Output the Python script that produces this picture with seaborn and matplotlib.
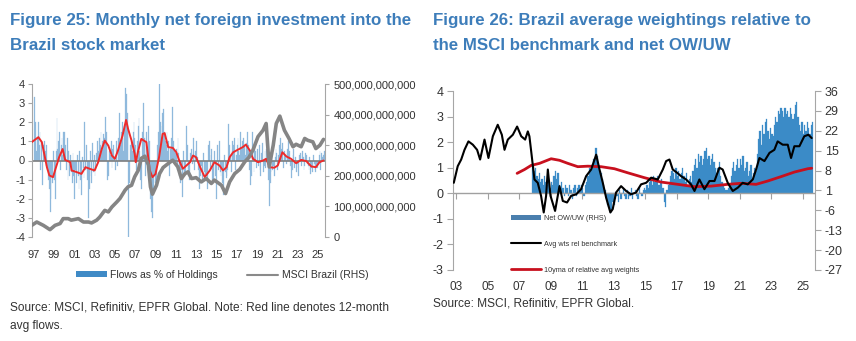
import numpy as np
import pandas as pd
import matplotlib
matplotlib.use("Agg")
import matplotlib.pyplot as plt
import seaborn as sns
from matplotlib.patches import Patch
from matplotlib.lines import Line2D
import matplotlib.ticker as mticker

# ---------------- DATA: Figure 25 ----------------
flow_start = "1997-01"
flows_pct = [
    3.3, 1.5, 2.0, 0.5, 1.2, 2.0, 0.8, 1.5, -0.5, 1.0, -1.3, 0.8,      # 1997
    1.0, 0.5, -0.3, 0.8, -0.5, -1.0, -1.5, -2.7, -2.0, -0.8, -1.2, 0.5,  # 1998
    -1.0, -2.0, 0.5, 2.2, 0.6, 1.0, 1.5, -0.5, 0.8, 1.2, 0.3, 1.5,    # 1999
    1.5, 0.8, -0.5, 1.2, -1.0, 0.5, -0.8, 0.3, -0.6, -1.2, 0.4, -0.8,  # 2000
    -2.0, -0.5, -1.2, 0.3, -0.8, -1.5, 0.5, -1.0, -1.8, 0.2, -0.4, -0.9,  # 2001
    2.0, -0.5, 0.8, -1.0, -3.0, -1.5, -0.8, 0.5, -1.2, 0.9, -0.6, 0.3,  # 2002
    -0.8, -0.5, 0.4, 1.0, 0.5, 1.2, 0.8, 1.5, 0.6, 1.0, 1.4, 1.2,     # 2003
    2.3, 1.0, 1.5, -1.0, -0.8, 0.5, 0.3, 1.0, -0.4, 0.6, 0.8, 0.2,    # 2004
    -0.5, 1.0, 0.2, -0.3, 1.2, 2.5, 0.8, 1.5, 2.0, 1.2, 0.5, 1.8,     # 2005
    3.8, 3.5, 2.5, 1.8, -4.0, -1.2, 0.8, 1.0, 0.5, 1.5, 2.0, 1.2,     # 2006
    0.8, -0.5, 1.0, 1.8, 2.2, 0.5, -1.0, -1.5, 1.5, 3.0, 1.2, 0.8,    # 2007
    -0.8, 1.5, 0.5, 1.8, 1.0, -0.5, -2.0, -2.7, -3.0, -1.5, -0.8, -1.2,  # 2008
    -0.5, -1.0, 0.8, 1.5, 4.0, 2.0, 1.8, 1.2, 2.5, 2.7, 1.5, 1.0,     # 2009
    0.8, 1.5, 0.5, 1.0, -0.8, 0.6, 1.2, 0.3, 2.8, 1.0, 0.5, 0.4,      # 2010
    0.6, -0.5, 1.2, 0.4, -0.8, -1.2, -0.5, -1.9, -1.0, 0.5, -0.8, -0.6,  # 2011
    1.8, 0.8, -0.5, -0.8, -1.0, 0.4, 0.6, -0.2, 1.2, 0.3, -0.5, 0.5,  # 2012
    1.0, 0.2, -0.5, -1.0, -1.5, -0.8, -0.3, -1.2, 0.4, -0.6, -0.8, -1.0,  # 2013
    -0.8, -1.5, 0.8, 1.0, 0.3, -0.5, 0.6, -1.0, -1.2, 0.5, -0.8, -0.6,  # 2014
    -2.0, 0.8, -0.5, 1.0, -0.6, -0.8, -0.4, -1.2, -1.8, 0.3, -0.6, -0.9,  # 2015
    -0.8, -0.5, 1.9, 0.8, 0.3, -0.6, 0.5, 1.0, 0.8, 1.2, -0.5, 0.3,   # 2016
    0.8, 1.2, 0.5, 0.3, 1.5, 0.6, 1.0, 0.4, 1.2, 0.8, 0.3, 0.9,       # 2017
    1.5, 0.8, 0.6, -0.5, -1.3, -0.8, 1.5, 0.2, -0.6, 0.8, 0.5, -0.4,  # 2018
    0.6, -0.3, 0.8, -0.5, -0.8, 0.4, 0.9, -0.6, -0.3, 0.5, -0.4, 0.6,  # 2019
    0.5, -1.0, -2.4, -1.2, -0.6, 0.3, -0.5, -0.3, -0.8, 0.2, 0.6, 0.4,  # 2020
    -0.5, 0.3, 0.8, 1.2, 0.6, 0.5, 0.9, -0.4, 0.5, 0.3, -0.2, 0.4,    # 2021
    0.6, 1.0, 0.5, -0.3, -0.9, -0.5, 0.3, 0.6, -0.4, 0.2, -0.6, -0.2,  # 2022
    -0.4, -0.8, 0.3, 0.4, -0.3, 0.5, 0.2, -0.5, -0.3, 0.4, 0.3, -0.2,  # 2023
    -0.3, -0.5, 0.2, -0.7, -0.4, -0.6, 0.3, -0.2, -0.5, -0.6, -0.3, -0.4,  # 2024
    -0.2, 0.3, 0.5, -0.5, 0.4, 0.2, 0.3, 0.5, 0.2,                    # 2025
]

avg12_years = [1996.8, 1997.46, 1997.8, 1998.3, 1998.54, 1998.9, 1999.1, 1999.5, 1999.85, 2000.1,
               2000.6, 2000.73, 2001.2, 2001.7, 2002.1, 2002.5, 2003.0, 2003.35, 2003.7, 2004.0,
               2004.35, 2004.7, 2005.0, 2005.3, 2005.75, 2006.1, 2006.3, 2006.64, 2006.95, 2007.05,
               2007.3, 2007.6, 2007.85, 2008.1, 2008.44, 2008.7, 2009.0, 2009.35, 2009.7, 2009.9,
               2010.25, 2010.7, 2011.05, 2011.4, 2011.7, 2012.05, 2012.4, 2012.7, 2013.0, 2013.4,
               2013.85, 2014.35, 2014.8, 2015.3, 2015.65, 2016.0, 2016.3, 2016.65, 2017.1, 2017.6,
               2017.9, 2018.3, 2018.6, 2019.1, 2019.6, 2019.9, 2020.25, 2020.7, 2021.05, 2021.5,
               2021.9, 2022.35, 2022.85, 2023.35, 2023.85, 2024.35, 2024.8, 2025.16, 2025.55]
avg12_flows = [0.96, 1.22, 0.96, -0.35, -0.78, -0.87, -0.52, 0.17, 0.6, 0.03,
               -0.09, -0.52, -0.6, -0.7, -0.35, -0.43, -0.52, -0.09, 0.6, 1.04,
               0.78, 0.26, 0.09, 0.52, 1.3, 2.12, 1.65, 1.04, 0.35, -0.09,
               0.52, 1.13, 1.04, 0.96, -0.52, -0.87, -0.7, 0.17, 1.39, 1.43,
               0.7, 0.66, 0.43, -0.09, -0.43, -0.26, -0.09, 0.26, 0.17, -0.35,
               -0.87, -0.52, -0.09, -0.26, -0.52, -0.35, 0.17, 0.43, 0.56, 0.7,
               0.83, 0.52, 0.09, -0.09, 0.0, 0.09, -0.35, -0.38, -0.26, 0.43,
               0.21, 0.09, -0.14, 0.03, -0.03, -0.31, -0.35, -0.09, 0.0]

msci_years = [1996.8, 1997.3, 1997.95, 1998.6, 1999.1, 1999.6, 1999.9, 2000.4, 2000.7, 2001.4,
              2001.9, 2002.4, 2002.7, 2003.2, 2003.5, 2004.0, 2004.35, 2004.7, 2005.2, 2005.5,
              2006.0, 2006.3, 2006.64, 2006.95, 2007.3, 2007.6, 2007.95, 2008.3, 2008.5, 2008.7,
              2009.1, 2009.4, 2009.75, 2010.25, 2010.7, 2011.2, 2011.55, 2011.9, 2012.2, 2012.55,
              2013.0, 2013.5, 2014.0, 2014.5, 2014.8, 2015.5, 2015.9, 2016.3, 2016.8, 2017.3,
              2017.8, 2018.2, 2018.6, 2019.1, 2019.6, 2019.9, 2020.2, 2020.6, 2020.9, 2021.25,
              2021.7, 2022.15, 2022.55, 2022.85, 2023.35, 2023.7, 2024.0, 2024.5, 2024.8, 2025.2,
              2025.55]
msci_bn = [38, 49, 38, 24, 38, 44, 60, 60, 55, 60,
           49, 49, 46, 55, 65, 87, 82, 98, 115, 126,
           153, 164, 169, 197, 218, 257, 264, 235, 164, 140,
           169, 207, 227, 240, 251, 229, 191, 207, 213, 191,
           194, 180, 191, 175, 186, 169, 142, 180, 207, 221,
           246, 260, 284, 328, 349, 371, 229, 300, 371, 395,
           349, 322, 295, 303, 295, 322, 316, 311, 289, 300,
           319]

left_xticks = list(range(1997, 2026, 2))
left_xlabels = ["97", "99", "01", "03", "05", "07", "09", "11", "13", "15", "17", "19", "21", "23", "25"]

# ---------------- DATA: Figure 26 ----------------
owuw_start = "2007-11"
net_owuw = [
    10, 8,                                          # 2007
    9, 6, 5, 7, 4, 5, 3, 6, 4, 3, 5, 2,             # 2008
    4, 3, 6, 8, 5, 7, 3, 2, 4, 2, -1, 3,            # 2009
    2, -1, 3, 1, -2, 2, 3, -1, 2, 3, 1, 3,          # 2010
    2, -1, 3, 4, 6, 9, 8, 10, 12, 11, 16, 13,       # 2011
    10, 8, 7, 5, 3, 1, -2, -4, -5, -7, -6, -3,      # 2012
    -4, -2, -1, -3, 1, -2, 0, 2, -1, -2, 1, -2,     # 2013
    -1, 2, -2, 0, 1, -1, -2, 2, 0, -1, 1, 2,        # 2014
    1, 3, 2, 4, 5, 3, 6, 4, 5, 6, 3, 4,             # 2015
    5, 2, -3, -5, 1, 3, 4, 6, 8, 7, 5, 9,           # 2016
    6, 8, 5, 7, 9, 6, 4, 7, 3, 5, 6, 4,             # 2017
    8, 10, 12, 9, 14, 11, 13, 10, 12, 15, 16, 12,   # 2018
    13, 10, 12, 14, 11, 9, 7, 9, 11, 6, 4, 3,       # 2019
    2, 1, 1, 2, 3, 6, 9, 11, 8, 10, 12, 9,          # 2020
    12, 10, 13, 8, 9, 11, 6, 8, 10, 5, 7, 9,        # 2021
    8, 14, 19, 22, 17, 24, 21, 25, 26, 22, 19, 23,  # 2022
    21, 20, 24, 27, 25, 29, 28, 30, 29, 27, 30, 28, # 2023
    29, 27, 30, 28, 26, 28, 31, 32, 27, 24, 22, 25, # 2024
    21, 24, 22, 25, 23, 21, 24, 25,                 # 2025
]

avgwt_years = [2002.85, 2003.1, 2003.32, 2003.53, 2003.78, 2004.06, 2004.33, 2004.52, 2004.8, 2005.05,
               2005.33, 2005.64, 2005.9, 2006.07, 2006.28, 2006.6, 2006.87, 2007.13, 2007.38, 2007.55,
               2007.65, 2007.8, 2007.97, 2008.18, 2008.39, 2008.56, 2008.71, 2008.82, 2008.99, 2009.28,
               2009.56, 2009.77, 2010.04, 2010.3, 2010.62, 2010.93, 2011.25, 2011.57, 2011.89, 2012.1,
               2012.31, 2012.52, 2012.79, 2012.94, 2013.15, 2013.47, 2013.79, 2014.1, 2014.42, 2014.74,
               2015.06, 2015.38, 2015.8, 2016.12, 2016.33, 2016.54, 2016.75, 2017.03, 2017.28, 2017.6,
               2017.91, 2018.13, 2018.44, 2018.76, 2019.08, 2019.4, 2019.71, 2019.92, 2020.24, 2020.56,
               2020.88, 2021.19, 2021.51, 2021.83, 2022.04, 2022.25, 2022.57, 2022.89, 2023.2, 2023.41,
               2023.73, 2024.05, 2024.26, 2024.47, 2024.79, 2025.1, 2025.36, 2025.57]
avgwt_rel = [0.41, 1.06, 1.32, 1.7, 2.03, 1.9, 1.7, 1.32, 2.1, 1.38,
             2.23, 2.68, 2.29, 1.7, 2.1, 2.29, 2.61, 2.23, 2.1, 2.42,
             2.23, 1.45, 0.54, 0.41, -0.1, -0.75, -0.1, 0.93, -0.1, -0.69,
             0.28, -0.3, -0.36, -0.1, -0.04, 0.16, 0.67, 0.93, 1.51, 0.93,
             0.41, -0.17, -0.75, -0.62, 0.03, 0.28, 0.09, -0.04, 0.03, 0.35,
             0.41, 0.61, 0.54, 0.93, 1.26, 1.32, 0.93, 0.8, 0.67, 0.54,
             0.35, 0.09, 0.54, 0.16, 0.48, 0.48, 1.0, 0.93, 0.41, 0.09,
             0.22, 0.41, 0.35, 0.54, 0.93, 1.38, 1.26, 1.58, 1.7, 2.03,
             1.9, 1.9, 1.38, 1.84, 1.84, 2.23, 2.29, 2.16]

ma10_years = [2006.87, 2007.34, 2007.76, 2008.29, 2009.03, 2009.56, 2010.09, 2010.72, 2011.36, 2012.2,
              2013.05, 2013.9, 2014.95, 2016.0, 2017.07, 2018.13, 2019.18, 2020.24, 2021.09, 2022.04,
              2022.78, 2023.62, 2024.47, 2025.32, 2025.57]
ma10_rel = [0.78, 0.93, 1.09, 1.17, 1.35, 1.29, 1.17, 1.04, 1.06, 1.04,
            0.96, 0.8, 0.61, 0.44, 0.35, 0.26, 0.28, 0.35, 0.39, 0.35,
            0.48, 0.65, 0.83, 0.96, 0.98]

right_xticks = list(range(2003, 2026, 2))
right_xlabels = ["03", "05", "07", "09", "11", "13", "15", "17", "19", "21", "23", "25"]

# ---------------- helpers ----------------
def month_years(start, n):
    d = pd.date_range(start, periods=n, freq="MS")
    return d.year + (d.month - 1) / 12.0

sns.set_theme(style="white")
plt.rcParams["font.family"] = ["Liberation Sans", "DejaVu Sans"]
plt.rcParams["axes.unicode_minus"] = False

TITLE_BLUE = "#3d7dba"
TXT = "#333333"
SPINE = "#a6a6a6"

W, H = 856, 341
fig = plt.figure(figsize=(W / 100, H / 100), dpi=100)

def fax(x0, y0, x1, y1):
    return fig.add_axes([x0 / W, 1 - y1 / H, (x1 - x0) / W, (y1 - y0) / H])

# ================= Figure 25 =================
ax1 = fax(32, 84, 325, 237)
fx = month_years(flow_start, len(flows_pct))
ax1.bar(fx + 1 / 24, flows_pct, width=1 / 12, color="#8fb9dc", edgecolor="#8fb9dc",
        linewidth=0.2, zorder=1)
ax1.axhline(0, color="#7f7f7f", lw=1.2, zorder=2)
sns.lineplot(x=avg12_years, y=avg12_flows, ax=ax1, color="#ee2a2a", lw=1.4, zorder=3)
ax1.set_ylim(-4, 4)
ax1.set_xlim(1996.83, 2025.7)
ax1.set_yticks(range(-4, 5))
ax1.set_xticks(left_xticks)
ax1.set_xticklabels(left_xlabels)
ax1.tick_params(axis="x", length=0, pad=9, labelsize=8, labelcolor=TXT)
ax1.tick_params(axis="y", left=True, length=3, width=0.8, color=SPINE, pad=2, labelsize=8, labelcolor=TXT)
for s in ["top", "bottom", "right"]:
    ax1.spines[s].set_visible(False)
ax1.spines["left"].set_color(SPINE)
ax1.spines["left"].set_linewidth(0.8)
ax1.set_xlabel(""); ax1.set_ylabel("")

ax1r = ax1.twinx()
sns.lineplot(x=msci_years, y=np.array(msci_bn) * 1e9, ax=ax1r, color="#858585", lw=2.6, zorder=4)
ax1r.set_ylim(0, 5e11)
ax1r.set_yticks(np.arange(0, 5.01e11, 1e11))
ax1r.yaxis.set_major_formatter(mticker.FuncFormatter(lambda v, p: f"{v:,.0f}"))
ax1r.tick_params(axis="y", right=True, length=3, width=0.8, color=SPINE, pad=3, labelsize=8, labelcolor=TXT)
for s in ["top", "bottom", "left"]:
    ax1r.spines[s].set_visible(False)
ax1r.spines["right"].set_color(SPINE)
ax1r.spines["right"].set_linewidth(0.8)
ax1r.set_ylabel("")

h_flows = Patch(facecolor="#3f8ac6", edgecolor="none")
h_msci = Line2D([], [], color="#8a8a8a", lw=1.5)
fig.legend([h_flows, h_msci], ["Flows as % of Holdings", "MSCI Brazil (RHS)"],
           loc="center", bbox_to_anchor=(222 / W, 1 - 275 / H), ncol=2, frameon=False,
           fontsize=7.5, handlelength=3.0, handleheight=0.5, handletextpad=0.3,
           columnspacing=2.8, labelcolor=TXT)

TFS = 12.2
fig.text(10 / W, 1 - 20 / H, "Figure 25: Monthly net foreign investment into the",
         color=TITLE_BLUE, fontsize=TFS, fontweight="bold", va="center", ha="left")
fig.text(10 / W, 1 - 45 / H, "Brazil stock market",
         color=TITLE_BLUE, fontsize=TFS, fontweight="bold", va="center", ha="left")
fig.text(10 / W, 1 - 308 / H, "Source: MSCI, Refinitiv, EPFR Global. Note: Red line denotes 12-month",
         color=TXT, fontsize=8.6, va="center", ha="left")
fig.text(10 / W, 1 - 326 / H, "avg flows.", color=TXT, fontsize=8.6, va="center", ha="left")

# ================= Figure 26 =================
ax2 = fax(453, 91, 815, 270)
ax2r = ax2.twinx()
ox = month_years(owuw_start, len(net_owuw))
ax2r.bar(ox + 1 / 24, net_owuw, width=1 / 12, color="#3b8bc7", edgecolor="#3b8bc7",
         linewidth=0.2, zorder=1)
ax2r.set_ylim(-27, 36)
ax2r.set_yticks(range(-27, 37, 7))
ax2r.tick_params(axis="y", right=True, length=4, width=0.8, color=SPINE, pad=3, labelsize=9, labelcolor=TXT)
for s in ["top", "bottom", "left"]:
    ax2r.spines[s].set_visible(False)
ax2r.spines["right"].set_color(SPINE)
ax2r.spines["right"].set_linewidth(0.8)

ax2.set_zorder(ax2r.get_zorder() + 1)
ax2.patch.set_visible(False)
ax2.axhline(0, color="#a0a0a0", lw=1.0, zorder=2)
sns.lineplot(x=ma10_years, y=ma10_rel, ax=ax2, color="#c8101e", lw=2.0, zorder=3)
sns.lineplot(x=avgwt_years, y=avgwt_rel, ax=ax2, color="#000000", lw=1.5, zorder=4)
ax2.set_ylim(-3, 4)
ax2.set_xlim(2002.8, 2025.78)
ax2.set_yticks(range(-3, 5))
ax2.set_xticks(right_xticks)
ax2.set_xticklabels(right_xlabels)
ax2.tick_params(axis="x", length=0, pad=8, labelsize=8.5, labelcolor=TXT)
ax2.tick_params(axis="y", left=True, length=4, width=0.8, color=SPINE, pad=3, labelsize=9, labelcolor=TXT)
for s in ["top", "bottom", "right"]:
    ax2.spines[s].set_visible(False)
ax2.spines["left"].set_color(SPINE)
ax2.spines["left"].set_linewidth(0.8)
ax2.set_xlabel(""); ax2.set_ylabel("")

sec = ax2.secondary_xaxis(3 / 7)
sec.set_xticks(right_xticks)
sec.set_xticklabels([])
sec.tick_params(axis="x", length=4, width=0.8, color="#a0a0a0", direction="out")
sec.spines["bottom"].set_visible(False)
sec.spines["top"].set_visible(False)

h_net = Patch(facecolor="#4a7fae", edgecolor="none")
h_avg = Line2D([], [], color="black", lw=1.5)
h_ma = Line2D([], [], color="#c8101e", lw=2.0)
leg = ax2.legend([h_net, h_avg, h_ma],
                 ["Net OW/UW (RHS)", "Avg wts rel benchmark", "10yma of relative avg weights"],
                 loc="upper left", bbox_to_anchor=(511 / W, 1 - 215 / H),
                 bbox_transform=fig.transFigure, frameon=False, fontsize=5.2,
                 handlelength=4.2, handleheight=0.7, handletextpad=0.35,
                 labelspacing=2.6, borderpad=0, borderaxespad=0, labelcolor=TXT)

fig.text(433 / W, 1 - 20 / H, "Figure 26: Brazil average weightings relative to",
         color=TITLE_BLUE, fontsize=TFS, fontweight="bold", va="center", ha="left")
fig.text(433 / W, 1 - 45 / H, "the MSCI benchmark and net OW/UW",
         color=TITLE_BLUE, fontsize=TFS, fontweight="bold", va="center", ha="left")
fig.text(433 / W, 1 - 304 / H, "Source: MSCI, Refinitiv, EPFR Global.",
         color=TXT, fontsize=8.6, va="center", ha="left")

fig.savefig("out.png", dpi=100)
